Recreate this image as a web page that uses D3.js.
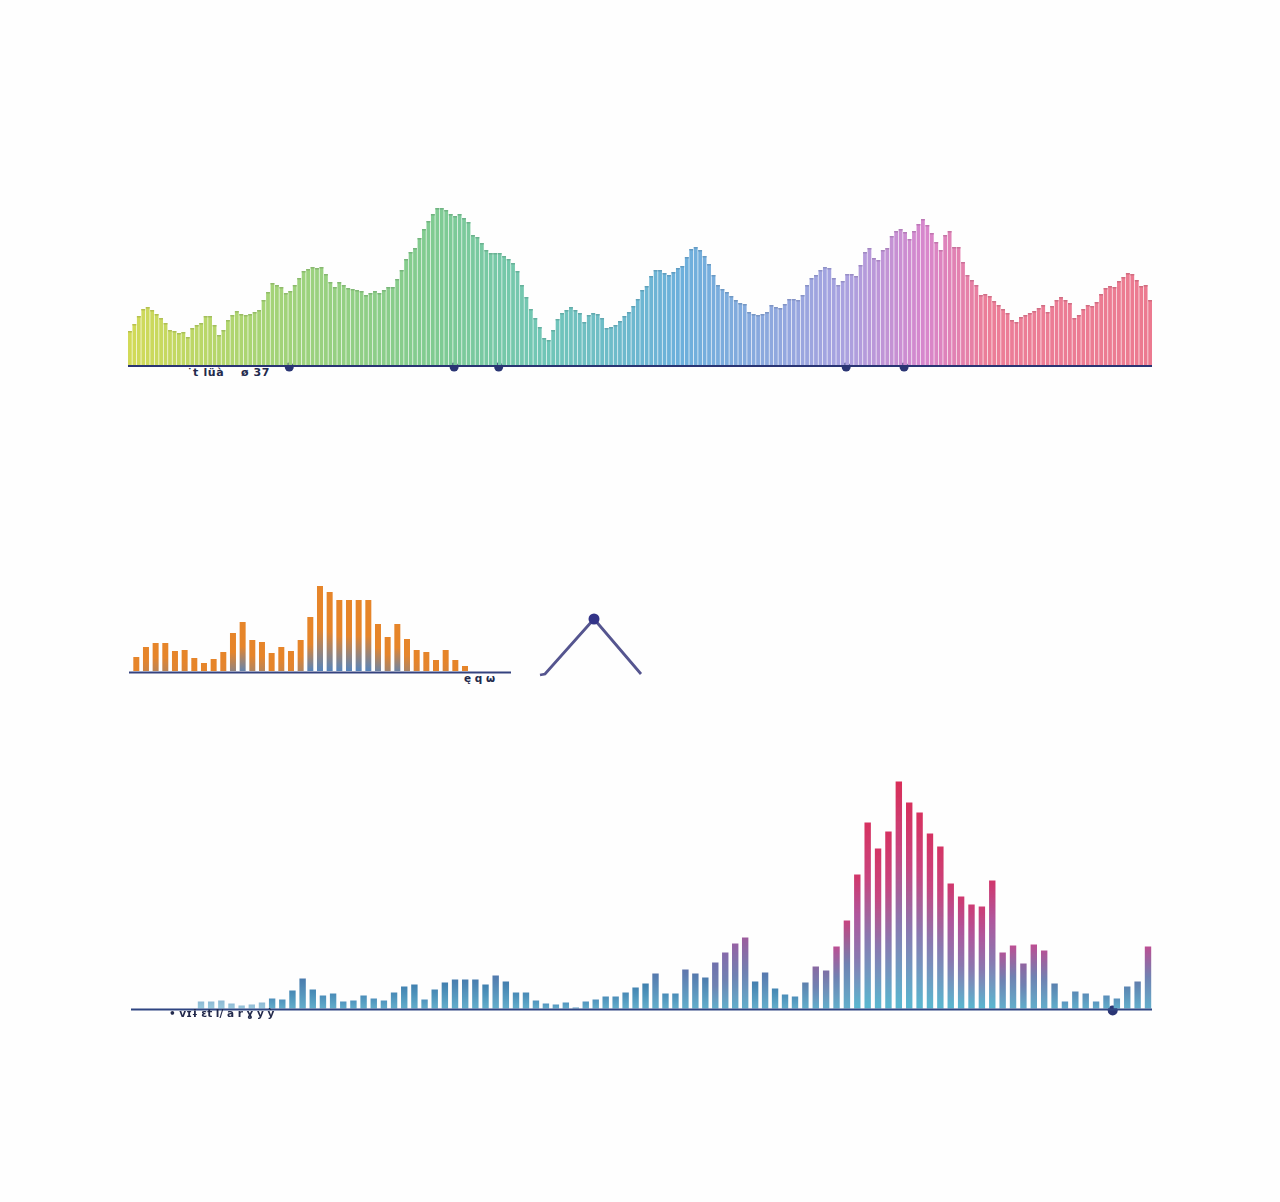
<!DOCTYPE html>
<html><head><meta charset="utf-8">
<script src="https://cdn.jsdelivr.net/npm/d3@7"></script>
<style>html,body{margin:0;padding:0;background:#fefefe}svg{display:block}text{font-family:"DejaVu Sans",sans-serif}</style>
</head><body>
<svg id="c" width="1280" height="1202" viewBox="0 0 1280 1202"></svg>
<script>
const spectrumValues = [34,41,49,56,58,55,51,47,42,35,34,32,33,28,37,40,42,49,49,40,30,35,45,50,54,51,50,51,53,55,65,73,82,80,78,72,74,80,87,94,96,98,97,98,91,83,78,83,80,77,76,75,74,70,72,74,72,75,78,78,86,95,106,113,117,127,136,144,151,157,157,155,151,149,151,147,143,130,128,122,115,112,112,112,109,106,102,94,80,68,56,47,38,27,25,35,46,52,55,58,55,52,43,50,52,51,47,37,38,40,44,49,53,59,66,75,79,89,95,95,92,90,93,97,99,108,116,118,115,109,101,90,80,76,73,69,65,62,61,53,51,50,51,53,60,58,57,61,66,66,65,70,80,87,90,95,98,97,87,80,84,91,91,89,100,113,117,107,105,115,117,129,134,136,133,126,134,141,146,140,132,123,115,130,134,118,118,103,90,85,80,70,71,69,64,60,56,52,45,43,48,50,52,54,57,60,53,59,65,68,65,62,47,50,56,60,59,63,71,77,79,78,84,88,92,91,85,79,80,65];
const spectrumColorStops = [0,0.13,0.3,0.41,0.54,0.7,0.78,0.84,1];
const spectrumColors = ["#d2da58","#a6d476","#7fcb92","#70c6b8","#6cb0dc","#a9a2e0","#d886cc","#ec7e98","#ec7a90"];
const spectrumDots = [36,73,83,161,174];
const orangeValues = [14,24,28,28,20,21,13,8,12,19,38,49,31,29,18,24,20,31,54,85,79,71,71,71,71,47,34,47,32,21,19,11,21,11,5];
const wavePeakX = [0,5,54,101];
const wavePeakY = [0,1,56,1];
const blueValues = [7,7,8,5,3,4,6,10,9,18,30,19,13,15,7,8,13,10,8,16,22,24,9,19,26,29,29,29,24,33,27,16,16,8,5,4,6,1,7,9,12,12,16,21,25,35,15,15,39,35,31,46,56,65,71,27,36,20,14,12,26,42,38,62,88,134,186,160,177,227,206,196,175,162,125,112,104,102,128,56,63,45,64,58,25,7,17,15,7,13,10,22,27,62];
const blueDots = [89.6];
const tickTextA = ["\u02D9t l\u00FC\u00E0","\u00F8 37"];
const tickTextB = ["\u0119 q \u03C9"];
const tickTextC = ["\u2022 v\u026A\u0268 \u025Bt l/ a r \u0263 y \u1EF3"];

const svg = d3.select("#c");
const defs = svg.append("defs");
const navy = "#2a3574";
const ink = "#232a4c";
const soft = defs.append("filter").attr("id","soft").attr("x","-5%").attr("y","-5%").attr("width","110%").attr("height","110%");
soft.append("feGaussianBlur").attr("stdDeviation",0.4);

/* chart 1 */
const x1 = d3.scaleBand().domain(d3.range(spectrumValues.length)).range([128,1152]).paddingInner(0.15);
const y1 = d3.scaleLinear().domain([0,157]).range([365,208]);
const c1 = d3.scaleLinear().domain(spectrumColorStops).range(spectrumColors).interpolate(d3.interpolateRgb);
const g1 = svg.append("g");
g1.selectAll("circle").data(spectrumDots).join("circle")
  .attr("cx",d=>x1(d)+x1.bandwidth()/2-1).attr("cy",367).attr("r",4.5).attr("fill",navy);
const g1b = g1.append("g").attr("filter","url(#soft)");
g1b.selectAll("rect.bar").data(spectrumValues).join("rect").attr("class","bar")
  .attr("x",(d,i)=>x1(i)).attr("width",x1.bandwidth()).attr("y",d=>y1(d)).attr("height",d=>y1(0)-y1(d))
  .attr("fill",(d,i)=>c1(i/(spectrumValues.length-1)));
g1b.selectAll("rect.cap").data(spectrumValues).join("rect").attr("class","cap")
  .attr("x",(d,i)=>x1(i)).attr("width",x1.bandwidth()).attr("y",d=>y1(d)).attr("height",1.5)
  .attr("fill",(d,i)=>d3.color(c1(i/(spectrumValues.length-1))).darker(0.35));
g1.append("line").attr("x1",128).attr("x2",1152).attr("y1",366).attr("y2",366).attr("stroke",navy).attr("stroke-width",2);
g1.selectAll("text").data(tickTextA).join("text").attr("x",(d,i)=>[187,241][i]).attr("y",376)
  .attr("font-size",11).attr("font-weight","bold").attr("letter-spacing",0.6).attr("fill",ink).text(d=>d);

/* chart 2 */
const x2 = d3.scaleBand().domain(d3.range(orangeValues.length)).range([133.3,468]).paddingInner(0.38);
const y2 = d3.scaleLinear().domain([0,85]).range([671,586]);
const orange = "#e6852c", steel = "#5584bc";
orangeValues.forEach((v,i)=>{
  const g = defs.append("linearGradient").attr("id","og"+i).attr("x1",0).attr("x2",0).attr("y1",0).attr("y2",1);
  const mix = d3.interpolateRgb(orange,steel)(Math.min(1,Math.max(0,(v-18)/35)));
  g.append("stop").attr("offset","50%").attr("stop-color",orange);
  g.append("stop").attr("offset","100%").attr("stop-color",mix);
});
const g2 = svg.append("g");
g2.append("g").attr("filter","url(#soft)").selectAll("rect").data(orangeValues).join("rect")
  .attr("x",(d,i)=>x2(i)).attr("width",x2.bandwidth()).attr("y",d=>y2(d)).attr("height",d=>y2(0)-y2(d))
  .attr("fill",(d,i)=>`url(#og${i})`);
g2.append("line").attr("x1",129).attr("x2",511).attr("y1",672.5).attr("y2",672.5).attr("stroke","#34427f").attr("stroke-width",2);
g2.selectAll("text").data(tickTextB).join("text").attr("x",464).attr("y",682)
  .attr("font-size",10.5).attr("font-weight","bold").attr("fill",ink).text(d=>d);

/* small peak */
const xp = d3.scaleLinear().domain([0,101]).range([540,641]);
const yp = d3.scaleLinear().domain([0,56]).range([675,619]);
const peak = d3.range(wavePeakX.length).map(i=>[wavePeakX[i],wavePeakY[i]]);
const g3 = svg.append("g");
g3.append("path").attr("d",d3.line().x(d=>xp(d[0])).y(d=>yp(d[1]))(peak)).attr("fill","none").attr("stroke","#55558f").attr("stroke-width",2.8);
g3.append("circle").attr("cx",xp(54)).attr("cy",yp(56)).attr("r",5.5).attr("fill","#333488");

/* chart 3 */
const x3 = d3.scaleLinear().domain([0,31,59,93]).range([201,516,795,1148]);
const y3 = d3.scaleLinear().domain([0,227]).range([1008.5,781.5]);
const bw3 = 6.4;
const topLeft = d3.scaleLinear().domain([0,25,60,110,227]).range(["#5a9cc4","#3f7fae","#8f66aa","#d0386e","#d92e58"]);
const topRight = d3.scaleLinear().domain([0,25,60,110,227]).range(["#5a9cc4","#5a80ae","#bb4f95","#d0386e","#d92e58"]);
blueValues.forEach((v,i)=>{
  const g = defs.append("linearGradient").attr("id","bg"+i).attr("x1",0).attr("x2",0).attr("y1",0).attr("y2",1);
  g.append("stop").attr("offset","0%").attr("stop-color",(i<60?topLeft:topRight)(v));
  if(v>100){
    g.append("stop").attr("offset","30%").attr("stop-color",(v>150?"#c8457f":"#b0559c"));
    g.append("stop").attr("offset","62%").attr("stop-color","#8a78b0");
  } else if(v>40){
    g.append("stop").attr("offset","50%").attr("stop-color","#6f82b2");
  }
  g.append("stop").attr("offset","100%").attr("stop-color",v>100?"#58b8d0":"#62aecb");
});
const g4 = svg.append("g");
g4.selectAll("circle").data(blueDots).join("circle").attr("cx",d=>x3(d)).attr("cy",1010.5).attr("r",5).attr("fill",navy);
g4.append("g").attr("filter","url(#soft)").selectAll("rect").data(blueValues).join("rect")
  .attr("x",(d,i)=>x3(i)-bw3/2).attr("width",bw3).attr("y",d=>y3(d)).attr("height",d=>y3(0)-y3(d))
  .attr("fill",(d,i)=>`url(#bg${i})`).attr("opacity",(d,i)=>i<7?0.65:1);
g4.append("line").attr("x1",131).attr("x2",1152).attr("y1",1009.5).attr("y2",1009.5).attr("stroke","#2f4581").attr("stroke-width",2);
g4.selectAll("text").data(tickTextC).join("text").attr("x",169).attr("y",1017)
  .attr("font-size",10.5).attr("font-weight","bold").attr("fill",ink).text(d=>d);
</script>
</body></html>
